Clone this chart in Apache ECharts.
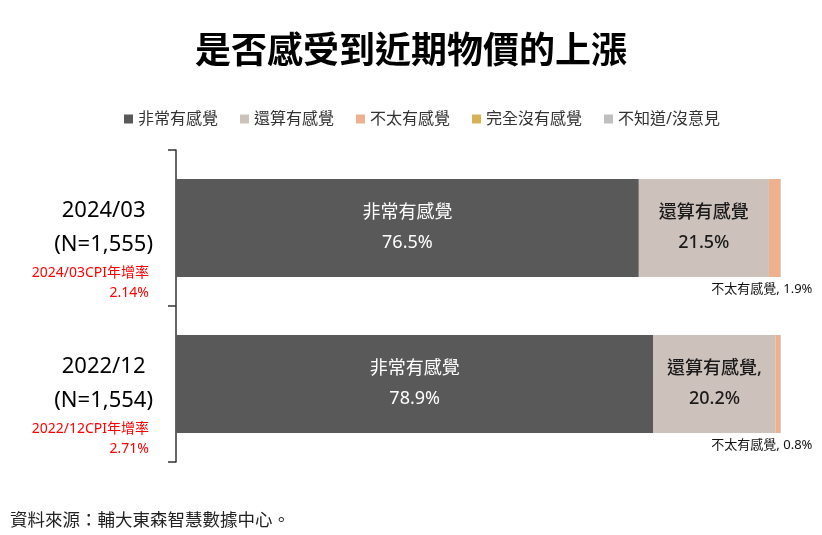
<!DOCTYPE html>
<html>
<head>
<meta charset="utf-8">
<script src="https://cdn.jsdelivr.net/npm/echarts@6/dist/echarts.min.js"></script>
<style>
html,body{margin:0;padding:0;background:#fff;}
#chart{width:822px;height:535px;}
</style>
</head>
<body>
<div id="chart"></div>
<script>
var categories = ['2024/03', '2022/12'];
var sampleSizes = ['1,555', '1,554'];
var cpiRates = ['2.14%', '2.71%'];
var seriesNames = ['非常有感覺', '還算有感覺', '不太有感覺', '完全沒有感覺', '不知道/沒意見'];
var veryMuch = [76.5, 78.9];
var somewhat = [21.5, 20.2];
var notReally = [1.9, 0.8];
var notAtAll = [0, 0];
var dontKnow = [0.1, 0.1];
var somewhatLabels = ['還算有感覺', '還算有感覺,'];
var colors = ['#595959', '#CDC1BC', '#EFB08E', '#D8B056', '#BFBFBF'];

var FONT = '"Noto Sans", "Noto Sans CJK TC", sans-serif';
var CJK = '"Noto Sans CJK TC", "Noto Sans", sans-serif';
var chart = echarts.init(document.getElementById('chart'));

var values = [veryMuch, somewhat, notReally, notAtAll, dontKnow];
var series = seriesNames.map(function (name, i) {
  var s = {
    name: name,
    type: 'bar',
    stack: 'total',
    barWidth: 98,
    yAxisIndex: 0,
    data: values[i],
    itemStyle: { color: colors[i] },
    emphasis: { disabled: true },
    label: { show: false }
  };
  if (i === 0) {
    s.label = {
      show: true, position: 'inside', color: '#ffffff', fontSize: 18, lineHeight: 30,
      fontFamily: FONT,
      formatter: function (p) { return p.seriesName + '\n' + p.value + '%'; }
    };
  } else if (i === 1) {
    s.label = {
      show: true, position: 'inside', color: '#1a1a1a', fontSize: 18, lineHeight: 30,
      fontWeight: 500, fontFamily: FONT,
      formatter: function (p) { return somewhatLabels[p.dataIndex] + '\n' + p.value + '%'; }
    };
  } else if (i === 2) {
    s.label = {
      show: true, position: ['100%', '100%'], align: 'right', verticalAlign: 'middle',
      offset: [32, 12], color: '#111111', fontSize: 13, fontFamily: FONT,
      formatter: function (p) { return p.seriesName + ', ' + p.value + '%'; }
    };
  }
  return s;
});

chart.setOption({
  backgroundColor: '#ffffff',
  animation: false,
  title: [
    {
      text: '是否感受到近期物價的上漲', left: 'center', top: 26,
      textStyle: { fontSize: 36, fontWeight: 'bold', color: '#000000', fontFamily: CJK }
    },
    {
      text: '資料來源：輔大東森智慧數據中心。', left: 5, top: 506,
      textStyle: { fontSize: 17.5, fontWeight: 'normal', color: '#222222', fontFamily: CJK }
    }
  ],
  legend: {
    left: 119, top: 106,
    itemWidth: 9, itemHeight: 9, itemGap: 22,
    icon: 'rect',
    data: seriesNames,
    textStyle: { fontSize: 16, color: '#333333', fontFamily: FONT }
  },
  grid: { left: 176, right: 41, top: 150, bottom: 73 },
  xAxis: { type: 'value', min: 0, max: 100, show: false },
  yAxis: [
    {
      type: 'category',
      data: categories,
      inverse: true,
      position: 'left',
      axisLine: { show: true, lineStyle: { color: '#333333', width: 1.5 } },
      axisTick: { show: true, length: 8, lineStyle: { color: '#333333', width: 1.5 } },
      axisLabel: {
        margin: 23,
        align: 'right',
        formatter: function (v, idx) {
          return '{big|' + v + '}\n{big|(N=' + sampleSizes[idx] + ')}';
        },
        rich: {
          big: { fontSize: 22, lineHeight: 34, align: 'center', color: '#000000', fontFamily: FONT }
        }
      }
    },
    {
      type: 'category',
      data: categories,
      inverse: true,
      position: 'left',
      offset: 0,
      axisLine: { show: false },
      axisTick: { show: false },
      axisLabel: {
        margin: 27,
        align: 'right',
        padding: [110, 0, 0, 0],
        formatter: function (v, idx) {
          return '{red|' + v + 'CPI年增率}\n{red|' + cpiRates[idx] + '}';
        },
        rich: {
          red: { fontSize: 14, lineHeight: 20, align: 'right', color: '#FF0000', fontFamily: FONT }
        }
      }
    }
  ],
  series: series
});
</script>
</body>
</html>
